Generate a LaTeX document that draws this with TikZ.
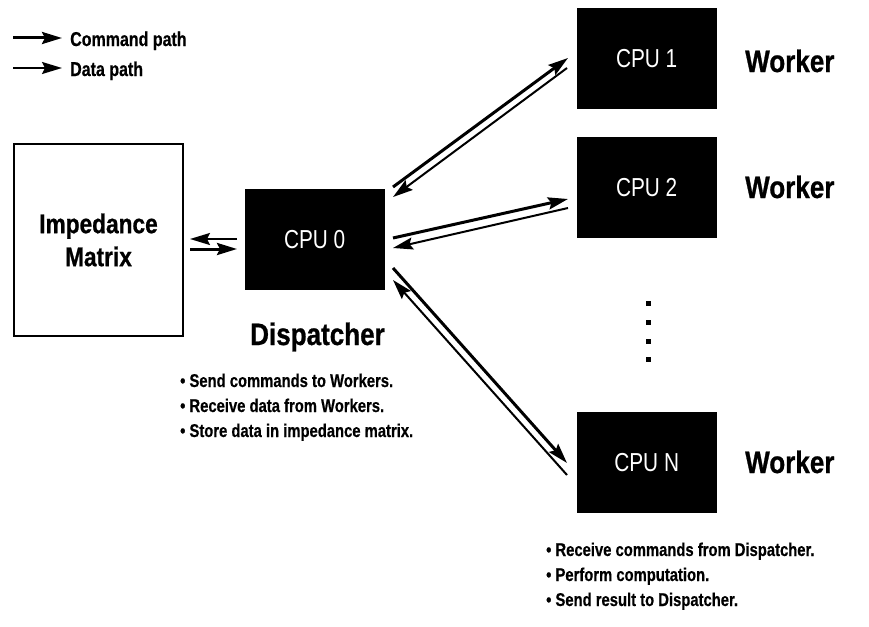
\documentclass[tikz,border=0pt]{standalone}
\usepackage{fontspec}
\setmainfont{Liberation Sans}
\newfontfamily\bigcond{Liberation Sans}[FakeStretch=0.84, BoldFeatures={FakeBold=0.8}]
\newfontfamily\smallcond{Liberation Sans}[FakeStretch=0.8, BoldFeatures={FakeBold=0.5}]
\newfontfamily\cpucond{Liberation Sans}[FakeStretch=0.8]
\usetikzlibrary{arrows.meta}
\begin{document}
\begin{tikzpicture}[x=1pt,y=-1pt,
  cpubox/.style={fill=black, draw=black, minimum width=139pt, minimum height=100pt,
    inner sep=0pt, text=white, font=\cpucond\fontsize{26}{26}\selectfont, anchor=north west},
  impbox/.style={draw=black, line width=2pt, minimum width=169pt, minimum height=192pt,
    inner sep=0pt, anchor=north west, align=center,
    font=\bigcond\bfseries\fontsize{27}{33}\selectfont},
  biglabel/.style={anchor=base west, inner sep=0pt, font=\bigcond\bfseries\fontsize{31}{31}\selectfont},
  smalltext/.style={anchor=base west, inner sep=0pt, font=\smallcond\bfseries\fontsize{18.5}{18.5}\selectfont},
  legendtext/.style={anchor=base west, inner sep=0pt, font=\smallcond\bfseries\fontsize{20}{20}\selectfont},
  cmd/.style={line width=3pt, -{Stealth[length=20pt,width=12pt,inset=3pt]}},
  dat/.style={line width=2pt, -{Stealth[length=20pt,width=12pt,inset=3pt]}},
  dotbox/.style={fill=black, inner sep=0pt, minimum size=5pt}
]
\useasboundingbox (0,0) rectangle (869,626);

% legend
\coordinate (lc1) at (13,38);
\coordinate (lc2) at (62,38);
\coordinate (ld1) at (13,68);
\coordinate (ld2) at (62,68);
\draw[cmd] (lc1) -- (lc2);
\draw[dat] (ld1) -- (ld2);
\node[legendtext] (lct) at (70,46) {Command path};
\node[legendtext] (ldt) at (70,76) {Data path};

% boxes
\node[impbox] (imp) at (13,143) {Impedance\\Matrix};
\node[cpubox] (cpu0) at (245,189) {CPU 0};
\node[cpubox] (cpu1) at (577,8) {CPU 1};
\node[cpubox] (cpu2) at (577,137) {CPU 2};
\node[cpubox] (cpun) at (577,412) {CPU N};

% labels
\node[biglabel] (w1) at (745,72) {Worker};
\node[biglabel] (w2) at (745,198) {Worker};
\node[biglabel] (wn) at (745,473) {Worker};
\node[biglabel] (disp) at (250,345) {Dispatcher};

% dots
\node[dotbox] (d1) at (648,303) {};
\node[dotbox] (d2) at (648,322) {};
\node[dotbox] (d3) at (648,341) {};
\node[dotbox] (d4) at (648,359) {};

% dispatcher list
\node[smalltext] (dl1) at (180,387) {• Send commands to Workers.};
\node[smalltext] (dl2) at (180,412) {• Receive data from Workers.};
\node[smalltext] (dl3) at (180,437) {• Store data in impedance matrix.};

% worker list
\node[smalltext] (wl1) at (546,556) {• Receive commands from Dispatcher.};
\node[smalltext] (wl2) at (546,581) {• Perform computation.};
\node[smalltext] (wl3) at (546,606) {• Send result to Dispatcher.};

% imp <-> cpu0
\coordinate (ia) at (190,239);
\coordinate (ib) at (237,239);
\coordinate (ic) at (190,249);
\coordinate (id) at (237,249);
\draw[dat] (ib) -- (ia);
\draw[cmd] (ic) -- (id);

% cpu0 <-> cpu1
\coordinate (a1) at (393,187);
\coordinate (a2) at (568,58);
\coordinate (a3) at (567,68);
\coordinate (a4) at (393,197);
\draw[cmd] (a1) -- (a2);
\draw[dat] (a3) -- (a4);

% cpu0 <-> cpu2
\coordinate (b1) at (393,238);
\coordinate (b2) at (568,199);
\coordinate (b3) at (568,208);
\coordinate (b4) at (393,248);
\draw[cmd] (b1) -- (b2);
\draw[dat] (b3) -- (b4);

% cpu0 <-> cpuN
\coordinate (c1) at (393,268);
\coordinate (c2) at (567,463);
\coordinate (c3) at (567,475);
\coordinate (c4) at (393,280);
\draw[cmd] (c1) -- (c2);
\draw[dat] (c3) -- (c4);
\end{tikzpicture}
\end{document}
